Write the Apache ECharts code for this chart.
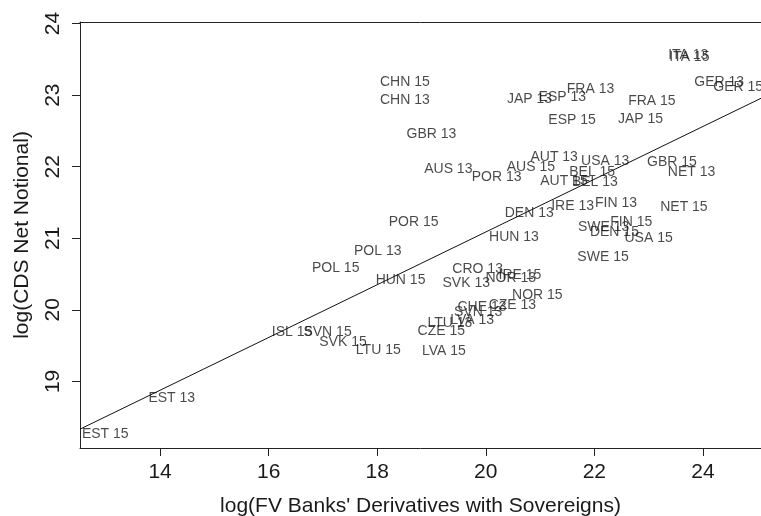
<!DOCTYPE html>
<html>
<head>
<meta charset="utf-8">
<script src="https://cdn.jsdelivr.net/npm/echarts@6/dist/echarts.min.js"></script>
<style>
html,body{margin:0;padding:0;background:#fff;}
#chart{width:761px;height:516px;}
</style>
</head>
<body>
<div id="chart"></div>
<script>
const labels = ["EST 15","EST 13","ISL 15","SVN 15","SVK 15","LTU 15","HUN 15","POL 15","POL 13","POR 15",
"AUS 13","POR 13","GBR 13","CHN 15","CHN 13","JAP 13","ESP 13","FRA 13","FRA 15","ESP 15",
"JAP 15","ITA 13","ITA 15","GER 13","GER 15","GBR 15","NET 13","USA 13","BEL 15","BEL 13",
"AUT 15","AUT 13","AUS 15","FIN 13","IRE 13","DEN 13","NET 15","FIN 15","SWE 13","DEN 15",
"USA 15","HUN 13","SWE 15","CRO 13","IRE 15","NOR 13","SVK 13","NOR 15","CZE 13","CHE 13",
"SVN 13","LTU 13","LVA 13","CZE 15","LVA 15"];
const fvDerivatives = [12.99,14.215,16.43,17.085,17.37,18.02,18.43,17.235,18.01,18.67,
19.31,20.20,19.00,18.51,18.51,20.805,21.41,21.93,23.06,21.59,
22.85,23.73,23.75,24.30,24.65,23.43,23.79,22.20,21.96,22.01,
21.44,21.26,20.83,22.40,21.60,20.80,23.65,22.68,22.17,22.37,
23.00,20.52,22.16,19.85,20.63,20.46,19.64,20.95,20.49,19.93,
19.86,19.34,19.75,19.18,19.23];
const cdsNet = [18.27,18.77,19.69,19.69,19.55,19.44,20.41,20.58,20.82,21.22,
21.97,21.85,22.46,23.18,22.93,22.95,22.97,23.09,22.91,22.65,
22.66,23.56,23.53,23.18,23.11,22.07,21.92,22.08,21.92,21.78,
21.80,22.14,21.99,21.49,21.45,21.35,21.44,21.22,21.15,21.09,
21.00,21.02,20.73,20.57,20.49,20.45,20.38,20.20,20.06,20.04,
19.97,19.81,19.85,19.70,19.43];
const xTicks = [14,16,18,20,22,24];
const yTicks = [19,20,21,22,23,24];
const fitIntercept = 13.718;
const fitSlope = 0.3685;
const xMin = 12.525, xMax = 25.07, yMin = 18.07, yMax = 24.022;

const font = "'Liberation Sans', Arial, sans-serif";
const points = labels.map((n, i) => ({name: n, value: [fvDerivatives[i], cdsNet[i]]}));
const fitLine = [xMin, xMax].map(x => [x, fitIntercept + fitSlope * x]);

const chart = echarts.init(document.getElementById('chart'), null, {renderer: 'canvas'});
chart.setOption({
  animation: false,
  backgroundColor: '#fff',
  grid: {left: 80, right: 0, top: 22, bottom: 68, containLabel: false, outerBoundsMode: 'none'},
  xAxis: [{
    type: 'value', min: xMin, max: xMax, position: 'bottom',
    name: "log(FV Banks' Derivatives with Sovereigns)",
    nameLocation: 'middle', nameGap: 48,
    nameTextStyle: {fontFamily: font, fontSize: 21, color: '#1a1a1a'},
    axisLine: {show: true, lineStyle: {color: '#222', width: 1}},
    axisTick: {show: true, length: 8, inside: false, customValues: xTicks, lineStyle: {color: '#222'}},
    axisLabel: {show: true, margin: 14, customValues: xTicks, fontFamily: font, fontSize: 21, color: '#1a1a1a'},
    splitLine: {show: false}
  }, {
    type: 'value', min: xMin, max: xMax, position: 'top',
    axisLine: {show: true, onZero: false, lineStyle: {color: '#222', width: 1}},
    axisTick: {show: false}, axisLabel: {show: false}, splitLine: {show: false}
  }],
  yAxis: {
    type: 'value', min: yMin, max: yMax,
    name: 'log(CDS Net Notional)',
    nameLocation: 'middle', nameGap: 47, nameRotate: 90,
    nameTextStyle: {fontFamily: font, fontSize: 21, color: '#1a1a1a'},
    axisLine: {show: true, lineStyle: {color: '#222', width: 1}},
    axisTick: {show: true, length: 8, inside: false, customValues: yTicks, lineStyle: {color: '#222'}},
    axisLabel: {show: true, rotate: 90, margin: 16, customValues: yTicks, fontFamily: font, fontSize: 21, color: '#1a1a1a'},
    splitLine: {show: false}
  },
  series: [{
    type: 'line',
    data: fitLine,
    showSymbol: false,
    symbol: 'none',
    lineStyle: {color: '#111', width: 1},
    silent: true,
    z: 1
  }, {
    type: 'scatter',
    data: points,
    symbolSize: 1,
    itemStyle: {color: 'rgba(0,0,0,0)'},
    silent: true,
    label: {
      show: true, position: 'inside',
      formatter: p => p.name,
      fontFamily: font, fontSize: 14, color: '#1a1a1a',
      align: 'center', verticalAlign: 'middle'
    },
    emphasis: {disabled: true},
    z: 2
  }]
});
</script>
</body>
</html>
